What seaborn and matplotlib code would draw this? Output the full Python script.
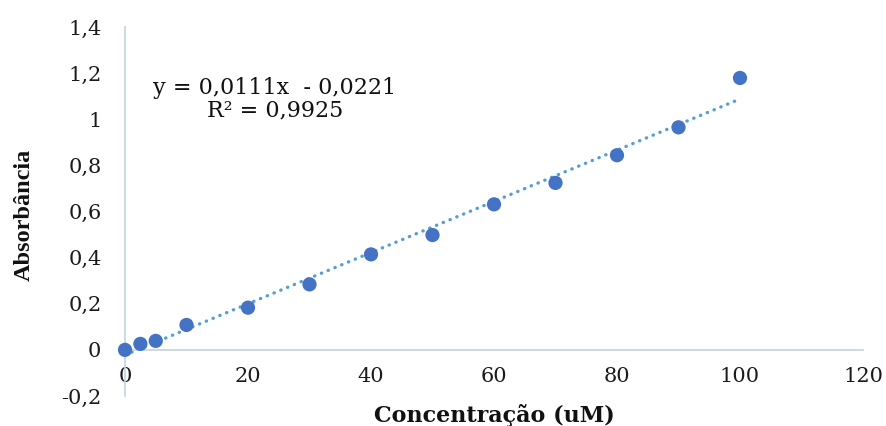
import matplotlib
matplotlib.use("Agg")
import matplotlib.pyplot as plt
import seaborn as sns
import pandas as pd
import numpy as np

# Data
concentration = [0, 2.5, 5, 10, 20, 30, 40, 50, 60, 70, 80, 90, 100]
absorbance = [0.0, 0.026, 0.039, 0.108, 0.183, 0.284, 0.414, 0.498, 0.631, 0.724, 0.844, 0.965, 1.179]
slope = 0.0111
intercept = -0.0221
equation_text = "y = 0,0111x  - 0,0221\nR² = 0,9925"
x_ticks = [0, 20, 40, 60, 80, 100, 120]
y_ticks = [-0.2, 0, 0.2, 0.4, 0.6, 0.8, 1.0, 1.2, 1.4]
y_tick_labels = ["-0,2", "0", "0,2", "0,4", "0,6", "0,8", "1", "1,2", "1,4"]
x_label = "Concentração (uM)"
y_label = "Absorbância"

sns.set_theme(style="white")
plt.rcParams["font.family"] = ["DejaVu Serif"]

df = pd.DataFrame({"conc": concentration, "abs": absorbance})
trend_x = np.array([min(concentration), max(concentration)])
trend = pd.DataFrame({"conc": trend_x, "abs": slope * trend_x + intercept})

fig = plt.figure(figsize=(8.87, 4.26), dpi=100)
ax = fig.add_axes([125 / 887, 1 - 396 / 426, 738 / 887, 369 / 426])

sns.lineplot(data=trend, x="conc", y="abs", ax=ax, color="#55A0D2",
             linewidth=2.4, zorder=2)
line = ax.lines[-1]
line.set_dashes((0.1, 2.1))
line.set_dash_capstyle("round")

sns.scatterplot(data=df, x="conc", y="abs", ax=ax, color="#4472C4",
                s=105, edgecolor="none", zorder=3, clip_on=False)

ax.set_xlim(0, 120)
ax.set_ylim(-0.2, 1.4)
ax.set_xticks(x_ticks)
ax.set_xticklabels([str(t) for t in x_ticks])
ax.set_yticks(y_ticks)
ax.set_yticklabels(y_tick_labels)

for s in ["top", "right"]:
    ax.spines[s].set_visible(False)
ax.spines["bottom"].set_position(("data", 0))
for s in ["left", "bottom"]:
    ax.spines[s].set_color("#C5D3DB")
    ax.spines[s].set_linewidth(1.2)

ax.tick_params(axis="both", length=0, labelsize=15, colors="#1a1a1a")
ax.tick_params(axis="y", pad=17)
ax.tick_params(axis="x", pad=12)

ax.set_xlabel(x_label, fontsize=16, fontweight="bold", color="#111111")
ax.set_ylabel(y_label, fontsize=17.5, fontweight="bold", color="#111111",
              family=["Liberation Serif", "DejaVu Serif"])
ax.xaxis.set_label_coords(0.5, -0.022)
ax.yaxis.set_label_coords(-0.122, 0.49)

ax.text(24.4, 1.087, equation_text, ha="center", va="center",
        fontsize=16, linespacing=1.05, color="#111111")

fig.savefig("out.png", dpi=100, facecolor="white")
